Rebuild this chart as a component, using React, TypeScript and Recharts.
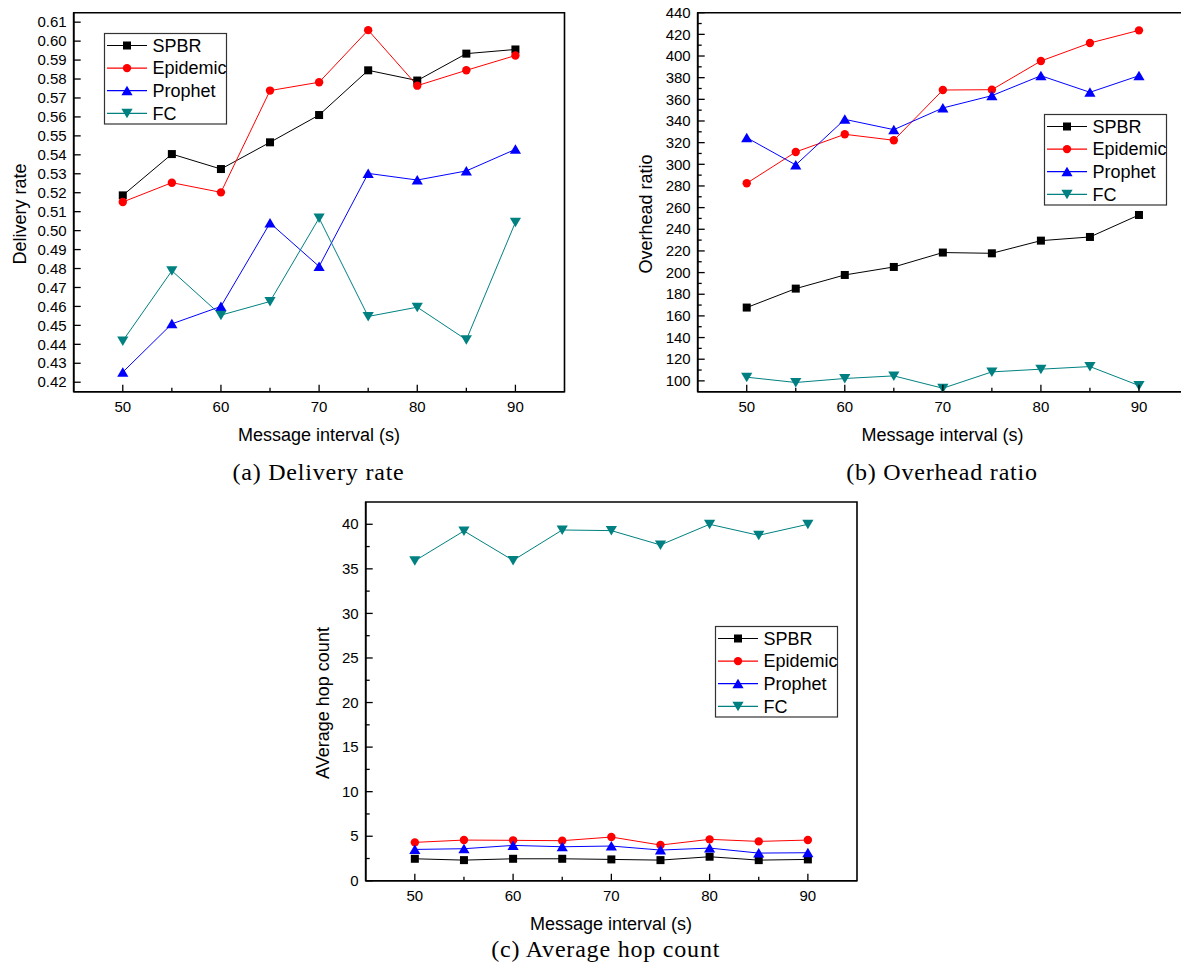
import React from 'react';
import { LineChart, Line, XAxis, YAxis, ReferenceArea, Legend } from 'recharts';

// ---------- data ----------
const intervals = [50, 55, 60, 65, 70, 75, 80, 85, 90];
const xTicks = [50, 55, 60, 65, 70, 75, 80, 85, 90];

const deliverySPBR = [0.5186, 0.5404, 0.5325, 0.5466, 0.561, 0.5846, 0.5792, 0.5934, 0.5956];
const deliveryEpidemic = [0.5151, 0.5253, 0.5202, 0.5739, 0.5783, 0.6058, 0.5765, 0.5846, 0.5924];
const deliveryProphet = [0.4253, 0.4508, 0.46, 0.504, 0.4811, 0.5302, 0.5267, 0.5315, 0.5429];
const deliveryFC = [0.4418, 0.4788, 0.4554, 0.4626, 0.5066, 0.4547, 0.4596, 0.4424, 0.5044];

const overheadSPBR = [167.7, 185.2, 197.8, 205.2, 218.5, 217.8, 229.5, 232.9, 253.2];
const overheadEpidemic = [282.5, 311.4, 327.7, 322.2, 368.6, 368.9, 395.4, 412.0, 423.7];
const overheadProphet = [324.6, 299.4, 341.5, 332.0, 352.0, 363.4, 381.8, 366.5, 381.8];
const overheadFC = [103.4, 98.5, 102.2, 104.6, 93.2, 108.3, 110.8, 113.2, 95.7];

const hopSPBR = [2.47, 2.32, 2.47, 2.47, 2.4, 2.32, 2.7, 2.32, 2.4];
const hopEpidemic = [4.31, 4.57, 4.54, 4.5, 4.91, 4.01, 4.65, 4.42, 4.57];
const hopProphet = [3.52, 3.6, 3.97, 3.82, 3.9, 3.45, 3.67, 3.11, 3.15];
const hopFC = [35.9, 39.25, 35.95, 39.36, 39.29, 37.68, 40.0, 38.76, 40.0];

const deliveryTicks = [0.42, 0.43, 0.44, 0.45, 0.46, 0.47, 0.48, 0.49, 0.5, 0.51, 0.52, 0.53, 0.54, 0.55, 0.56, 0.57, 0.58, 0.59, 0.6, 0.61];
const overheadTicks = [100, 110, 120, 130, 140, 150, 160, 170, 180, 190, 200, 210, 220, 230, 240, 250, 260, 270, 280, 290, 300, 310, 320, 330, 340, 350, 360, 370, 380, 390, 400, 410, 420, 430, 440];
const hopTicks = [0, 2.5, 5, 7.5, 10, 12.5, 15, 17.5, 20, 22.5, 25, 27.5, 30, 32.5, 35, 37.5, 40];

const seriesMeta = [
  { key: 'spbr', name: 'SPBR', color: '#000000', shape: 'square' },
  { key: 'epidemic', name: 'Epidemic', color: '#ff0000', shape: 'circle' },
  { key: 'prophet', name: 'Prophet', color: '#0000ff', shape: 'up' },
  { key: 'fc', name: 'FC', color: '#008080', shape: 'down' },
];

const buildRows = (s: number[], e: number[], p: number[], f: number[]) =>
  intervals.map((x, i) => ({ x, spbr: s[i], epidemic: e[i], prophet: p[i], fc: f[i] }));

const deliveryRows = buildRows(deliverySPBR, deliveryEpidemic, deliveryProphet, deliveryFC);
const overheadRows = buildRows(overheadSPBR, overheadEpidemic, overheadProphet, overheadFC);
const hopRows = buildRows(hopSPBR, hopEpidemic, hopProphet, hopFC);

const SANS = "'Liberation Sans', Arial, Helvetica, sans-serif";
const SERIF = "'Liberation Serif', 'Times New Roman', serif";

const Y_AXIS_W = 60;
const X_AXIS_H = 40;

// ---------- markers ----------
function Marker({ shape, cx, cy, color }: any) {
  if (shape === 'square') return <rect x={cx - 4} y={cy - 4} width={8} height={8} fill={color} />;
  if (shape === 'circle') return <circle cx={cx} cy={cy} r={4.2} fill={color} />;
  if (shape === 'up')
    return <polygon points={`${cx},${cy - 5} ${cx + 5.6},${cy + 4.5} ${cx - 5.6},${cy + 4.5}`} fill={color} />;
  return <polygon points={`${cx},${cy + 5} ${cx + 5.6},${cy - 4.5} ${cx - 5.6},${cy - 4.5}`} fill={color} />;
}

const makeDot = (shape: string, color: string) => (props: any) => {
  const { cx, cy, index } = props;
  if (cx == null || cy == null) return <g key={`d-${index}`} />;
  return (
    <g key={`d-${shape}-${index}`}>
      <Marker shape={shape} cx={cx} cy={cy} color={color} />
    </g>
  );
};

// ---------- ticks ----------
const XTick = (props: any) => {
  const { x, y, payload } = props;
  const v = payload.value;
  const major = v % 10 === 0;
  return (
    <g>
      <line x1={x} y1={y} x2={x} y2={y - (major ? 7 : 4)} stroke="#000" strokeWidth={1.3} />
      {major && (
        <text x={x} y={y + 20} textAnchor="middle" fontSize={15} fontFamily={SANS} fill="#000">
          {v}
        </text>
      )}
    </g>
  );
};

const makeYTick = (isMajor: (v: number) => boolean, fmt: (v: number) => string) => (props: any) => {
  const { x, y, payload } = props;
  const v = payload.value;
  const major = isMajor(v);
  return (
    <g>
      <line x1={x} y1={y} x2={x + (major ? 7 : 4)} y2={y} stroke="#000" strokeWidth={1.3} />
      {major && (
        <text x={x - 7} y={y + 5.2} textAnchor="end" fontSize={15} fontFamily={SANS} fill="#000">
          {fmt(v)}
        </text>
      )}
    </g>
  );
};

const DeliveryYTick = makeYTick(() => true, (v) => v.toFixed(2));
const OverheadYTick = makeYTick((v) => Math.round(v) % 20 === 0, (v) => String(Math.round(v)));
const HopYTick = makeYTick((v) => v % 5 === 0, (v) => String(v));

// ---------- legend ----------
const LegendBox = (props: any) => {
  const payload = [...(props.payload || [])].sort(
    (a: any, b: any) =>
      seriesMeta.findIndex((m) => m.name === a.value) - seriesMeta.findIndex((m) => m.name === b.value)
  );
  return (
    <svg width={124} height={92} style={{ display: 'block', overflow: 'visible' }}>
      <rect x={0.5} y={0.5} width={122} height={90.5} fill="#fff" stroke="#333" strokeWidth={1.2} />
      {payload.map((item: any, i: number) => {
        const meta = seriesMeta.find((m) => m.name === item.value) || seriesMeta[i];
        const yy = 12.5 + i * 22.6;
        return (
          <g key={item.value}>
            <line x1={3} y1={yy} x2={43} y2={yy} stroke={meta.color} strokeWidth={1.2} />
            <Marker shape={meta.shape} cx={23} cy={yy} color={meta.color} />
            <text x={48.5} y={yy + 6.3} fontSize={18} fontFamily={SANS} fill="#000">
              {item.value}
            </text>
          </g>
        );
      })}
    </svg>
  );
};

// ---------- panel ----------
function Panel({ rows, width, height, plot, yDomain, yTicks, YTick, legendPos }: any) {
  const margin = {
    top: plot.top,
    left: plot.left - Y_AXIS_W,
    right: width - plot.right,
    bottom: height - plot.bottom - X_AXIS_H,
  };
  return (
    <LineChart width={width} height={height} data={rows} margin={margin}>
      <XAxis
        dataKey="x"
        type="number"
        domain={[45, 95]}
        ticks={xTicks}
        interval={0}
        allowDataOverflow
        height={X_AXIS_H}
        tickSize={0}
        tickMargin={0}
        tickLine={false}
        axisLine={{ stroke: '#000', strokeWidth: 1.6 }}
        tick={<XTick />}
      />
      <YAxis
        type="number"
        domain={yDomain}
        ticks={yTicks}
        interval={0}
        allowDataOverflow
        width={Y_AXIS_W}
        tickSize={0}
        tickMargin={0}
        tickLine={false}
        axisLine={{ stroke: '#000', strokeWidth: 1.6 }}
        tick={<YTick />}
      />
      <ReferenceArea
        x1={45}
        x2={95}
        y1={yDomain[0]}
        y2={yDomain[1]}
        fill="none"
        fillOpacity={0}
        stroke="#000"
        strokeWidth={1.6}
        ifOverflow="visible"
      />
      {seriesMeta.map((s) => (
        <Line
          key={s.key}
          dataKey={s.key}
          name={s.name}
          type="linear"
          stroke={s.color}
          strokeWidth={1}
          dot={makeDot(s.shape, s.color)}
          activeDot={false}
          isAnimationActive={false}
          legendType="line"
        />
      ))}
      <Legend
        layout="vertical"
        align="center"
        verticalAlign="middle"
        content={<LegendBox />}
        wrapperStyle={{ left: legendPos.left, top: legendPos.top, width: 124, height: 92, bottom: 'auto', right: 'auto' }}
      />
    </LineChart>
  );
}

export default function App() {
  return (
    <div
      style={{
        position: 'absolute',
        left: 0,
        top: 0,
        width: 1181,
        height: 970,
        overflow: 'hidden',
        background: '#fff',
      }}
    >
      <div style={{ position: 'absolute', left: 0, top: 0 }}>
        <Panel
          rows={deliveryRows}
          width={600}
          height={470}
          plot={{ left: 73.7, top: 12.7, right: 564.5, bottom: 391.7 }}
          yDomain={[0.415, 0.615]}
          yTicks={deliveryTicks}
          YTick={DeliveryYTick}
          legendPos={{ left: 104, top: 33 }}
        />
      </div>
      <div style={{ position: 'absolute', left: 600, top: 0 }}>
        <Panel
          rows={overheadRows}
          width={600}
          height={470}
          plot={{ left: 97.7, top: 12.7, right: 588, bottom: 391.7 }}
          yDomain={[90, 440]}
          yTicks={overheadTicks}
          YTick={OverheadYTick}
          legendPos={{ left: 443.5, top: 114 }}
        />
      </div>
      <div style={{ position: 'absolute', left: 300, top: 480 }}>
        <Panel
          rows={hopRows}
          width={600}
          height={490}
          plot={{ left: 65.7, top: 22, right: 557, bottom: 400.8 }}
          yDomain={[0, 42.5]}
          yTicks={hopTicks}
          YTick={HopYTick}
          legendPos={{ left: 415, top: 146 }}
        />
      </div>
      <svg
        width={1181}
        height={970}
        style={{ position: 'absolute', left: 0, top: 0, pointerEvents: 'none' }}
      >
        <g fontFamily={SANS} fontSize={18} fill="#000" textAnchor="middle">
          <text transform="translate(19.6,214) rotate(-90)" dy="0.35em">Delivery rate</text>
          <text transform="translate(646,214) rotate(-90)" dy="0.35em">Overhead ratio</text>
          <text transform="translate(323,703) rotate(-90)" dy="0.35em">AVerage hop count</text>
          <text x={319} y={441}>Message interval (s)</text>
          <text x={942.5} y={441}>Message interval (s)</text>
          <text x={611} y={930}>Message interval (s)</text>
        </g>
        <g fontFamily={SERIF} fontSize={24} fill="#000" textAnchor="middle" letterSpacing={0.8}>
          <text x={318.5} y={480}>(a) Delivery rate</text>
          <text x={942} y={480}>(b) Overhead ratio</text>
          <text x={605.7} y={957}>(c) Average hop count</text>
        </g>
      </svg>
    </div>
  );
}
